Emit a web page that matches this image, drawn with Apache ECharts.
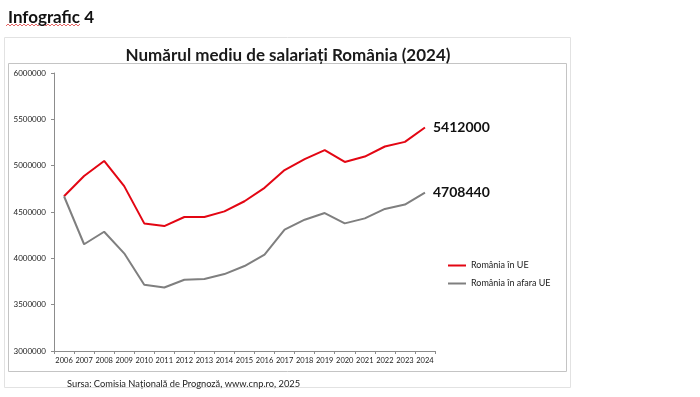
<!DOCTYPE html>
<html>
<head>
<meta charset="utf-8">
<script src="https://cdn.jsdelivr.net/npm/echarts@6/dist/echarts.min.js"></script>
<style>
  html, body { margin: 0; padding: 0; background: #fff; }
  #chart { width: 700px; height: 397px; }
</style>
</head>
<body>
<div id="chart"></div>
<script>
// ani
const years = ["2006","2007","2008","2009","2010","2011","2012","2013","2014","2015",
  "2016","2017","2018","2019","2020","2021","2022","2023","2024"];
// numar mediu salariati - varianta in UE
const inUE = [4670000, 4888000, 5051000, 4779000, 4377000, 4348000, 4446000, 4446000, 4507000,
  4616000, 4761000, 4953000, 5070000, 5168000, 5040000, 5098000, 5207000, 5257000, 5412000];
// varianta in afara UE
const afaraUE = [4670000, 4152000, 4287000, 4054000, 3714000, 3685000, 3769000, 3776000, 3830000,
  3917000, 4040000, 4309000, 4417000, 4489000, 4377000, 4431000, 4533000, 4580000, 4708440];
const yTicks = [3000000, 6000000, 500000]; // min, max, pas

const font = "Lato, 'Open Sans', sans-serif";

// sublinierea rosie ondulata de sub "Infografic"
const wave = [];
for (let x = 6; x <= 80; x += 2) wave.push([x, (x / 2) % 2 === 0 ? 24 : 26]);

const Chart = echarts.init(document.getElementById("chart"));
Chart.setOption({
  animation: false,
  backgroundColor: "#fff",
  textStyle: { fontFamily: font },
  title: [
    {
      text: "Infografic 4",
      left: 3,
      top: 4,
      textStyle: { fontSize: 17, fontWeight: "bold", color: "#111" }
    },
    {
      text: "Numărul mediu de salariați România (2024)",
      left: 283,
      textAlign: "center",
      top: 42,
      textStyle: { fontSize: 17, fontWeight: "bold", color: "#1a1a1a" }
    },
    {
      text: "Sursa: Comisia Națională de Prognoză, www.cnp.ro, 2025",
      left: 62,
      top: 374,
      textStyle: { fontSize: 9.3, fontWeight: "normal", color: "#222" }
    }
  ],
  graphic: [
    {
      type: "polyline",
      shape: { points: wave },
      style: { fill: "none", stroke: "#e04040", lineWidth: 0.8 },
      silent: true
    },
    {
      type: "rect",
      shape: { x: 4.5, y: 37.5, width: 566, height: 350 },
      style: { fill: "none", stroke: "#e2e2e2", lineWidth: 1 },
      silent: true
    },
    {
      type: "rect",
      shape: { x: 8.5, y: 63.5, width: 558, height: 308 },
      style: { fill: "none", stroke: "#c4c4c4", lineWidth: 1 },
      silent: true
    }
  ],
  grid: {
    left: 54,
    right: 265,
    top: 73,
    bottom: 46
  },
  legend: {
    orient: "vertical",
    left: 443,
    top: 256,
    itemWidth: 18,
    itemHeight: 2,
    itemGap: 9,
    icon: "rect",
    textStyle: { fontSize: 9, color: "#222" },
    data: ["România în UE", "România în afara UE"]
  },
  xAxis: {
    type: "category",
    data: years,
    boundaryGap: true,
    axisLine: { lineStyle: { color: "#8c8c8c" } },
    axisTick: { show: true, length: 3, lineStyle: { color: "#8c8c8c" } },
    axisLabel: { fontSize: 7.5, color: "#222", margin: 6, interval: 0 }
  },
  yAxis: {
    type: "value",
    min: yTicks[0],
    max: yTicks[1],
    interval: yTicks[2],
    axisLine: { show: true, lineStyle: { color: "#8c8c8c" } },
    axisTick: { show: true, length: 3, lineStyle: { color: "#8c8c8c" } },
    splitLine: { show: false },
    axisLabel: { fontSize: 8, color: "#222", margin: 8, formatter: v => String(v) }
  },
  series: [
    {
      name: "România în UE",
      type: "line",
      data: inUE,
      symbol: "none",
      lineStyle: { color: "#e30613", width: 2 },
      itemStyle: { color: "#e30613" },
      endLabel: {
        show: true,
        distance: 8,
        fontSize: 14,
        fontWeight: "bold",
        color: "#111",
        formatter: p => String(p.value)
      }
    },
    {
      name: "România în afara UE",
      type: "line",
      data: afaraUE,
      symbol: "none",
      lineStyle: { color: "#7f7f7f", width: 2 },
      itemStyle: { color: "#7f7f7f" },
      endLabel: {
        show: true,
        distance: 8,
        fontSize: 14,
        fontWeight: "bold",
        color: "#111",
        formatter: p => String(p.value)
      }
    }
  ]
});
</script>
</body>
</html>
